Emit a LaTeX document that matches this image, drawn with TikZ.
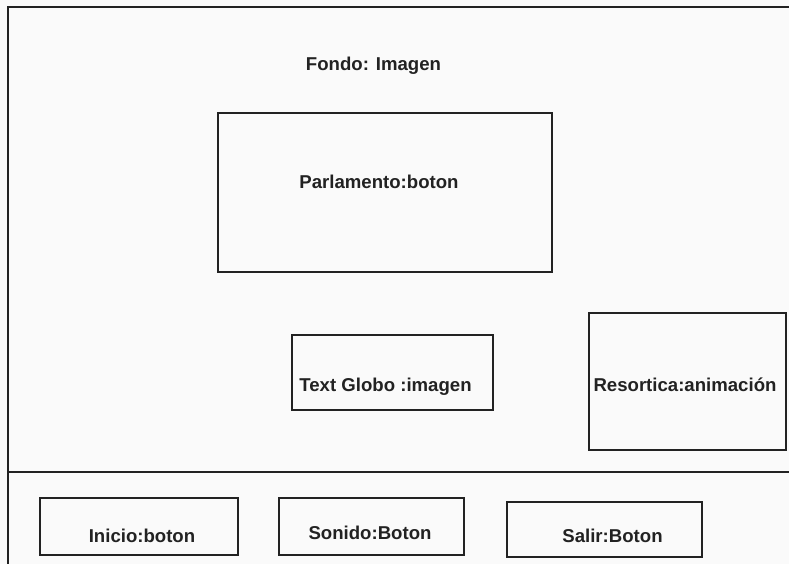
\documentclass[tikz,border=0pt]{standalone}
\usepackage{fontspec}
\setmainfont{Liberation Sans}
\definecolor{ink}{RGB}{34,34,34}
\definecolor{paper}{RGB}{250,250,250}
\begin{document}
\begin{tikzpicture}[x=1bp,y=-1bp,
  frame/.style={draw=ink,line width=2.6bp},
  box/.style={draw=ink,line width=2bp,rectangle,inner sep=0pt},
  lbl/.style={anchor=base,inner sep=0pt,text=ink,font=\fontsize{18.6bp}{22bp}\selectfont\bfseries}]
  % page and clip
  \fill[paper] (0,0) rectangle (789,564);
  \useasboundingbox (0,0) rectangle (789,564);
  \clip (0,0) rectangle (789,564);
  % outer frame and divider
  \coordinate (fl) at (8,600);
  \coordinate (ft) at (8,7);
  \coordinate (fr) at (800,7);
  \coordinate (dl) at (8,472);
  \coordinate (dr) at (800,472);
  \draw[frame] (fl) -- (ft) -- (fr);
  \draw[frame,line width=2.2bp] (dl) -- (dr);
  % boxes
  \node[box,minimum width=334bp,minimum height=159bp] (parl) at (385,192.5) {};
  \node[box,minimum width=201bp,minimum height=75bp] (globo) at (392.5,372.5) {};
  \node[box,minimum width=197bp,minimum height=137bp] (reso) at (687.5,381.5) {};
  \node[box,minimum width=198bp,minimum height=57bp] (inicio) at (139,526.5) {};
  \node[box,minimum width=185bp,minimum height=57bp] (sonido) at (371.5,526.5) {};
  \node[box,minimum width=195bp,minimum height=55bp] (salir) at (604.5,529.5) {};
  % labels
  \node[lbl] (fondo-t) at (373.5,71) {Fondo: Imagen};
  \node[lbl] (parl-t) at (379,189) {Parlamento:boton};
  \node[lbl] (globo-t) at (385.5,391) {Text Globo :imagen};
  \node[lbl] (reso-t) at (685,391) {Resortica:animación};
  \node[lbl] (inicio-t) at (142,542) {Inicio:boton};
  \node[lbl] (sonido-t) at (370,539) {Sonido:Boton};
  \node[lbl] (salir-t) at (612.5,542) {Salir:Boton};
\end{tikzpicture}
\end{document}
